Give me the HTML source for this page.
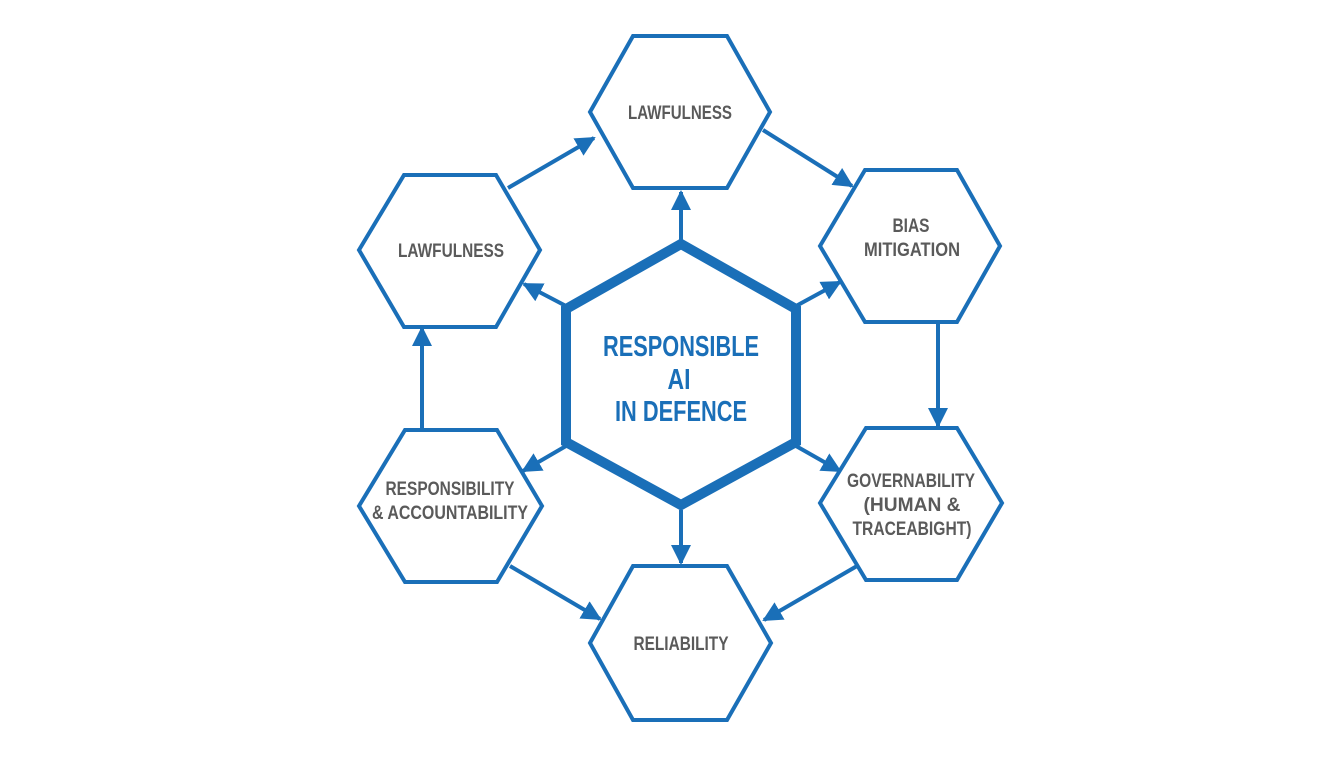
<!DOCTYPE html>
<html><head><meta charset="utf-8"><style>
html,body{margin:0;padding:0;background:#fff;}
svg{display:block}
text{font-family:"Liberation Sans",sans-serif;font-weight:bold;text-anchor:middle;}
.t{fill:#5a5a5a;font-size:19px}
.c{fill:#1a6fb8;font-size:29px}
.h{fill:#fff;stroke:#1a6fb8;stroke-width:4;stroke-linejoin:miter}
.l{stroke:#1a6fb8;stroke-width:4;fill:none}
</style></head><body>
<svg width="1344" height="768" viewBox="0 0 1344 768" xmlns="http://www.w3.org/2000/svg">
<defs><marker id="a" viewBox="0 0 10 10" refX="9" refY="5" markerWidth="5" markerHeight="5" orient="auto" markerUnits="strokeWidth"><path d="M0,0 L10,5 L0,10 z" fill="#1a6fb8"/></marker></defs>
<line class="l" x1="508" y1="188" x2="594" y2="138" marker-end="url(#a)"/>
<line class="l" x1="763" y1="130" x2="852" y2="186" marker-end="url(#a)"/>
<line class="l" x1="938" y1="322" x2="938" y2="426" marker-end="url(#a)"/>
<line class="l" x1="422" y1="430" x2="422" y2="328" marker-end="url(#a)"/>
<line class="l" x1="510" y1="566" x2="600" y2="619" marker-end="url(#a)"/>
<line class="l" x1="857" y1="566" x2="764" y2="620" marker-end="url(#a)"/>
<line class="l" x1="681" y1="240" x2="681" y2="192" marker-end="url(#a)"/>
<line class="l" x1="681" y1="510" x2="681" y2="563" marker-end="url(#a)"/>
<line class="l" x1="566" y1="306" x2="524" y2="284" marker-end="url(#a)"/>
<line class="l" x1="796" y1="306" x2="840" y2="282" marker-end="url(#a)"/>
<line class="l" x1="566" y1="446" x2="523" y2="471" marker-end="url(#a)"/>
<line class="l" x1="796" y1="446" x2="840" y2="471" marker-end="url(#a)"/>
<polygon class="h" points="590,112 633,36 727,36 770,112 727,188 633,188"/>
<polygon class="h" points="359,250 404,175 496,175 540,250 496,327 404,327"/>
<polygon class="h" points="820,246 865,170 957,170 1000,246 957,322 865,322"/>
<polygon class="h" points="359,506 405,430 497,430 542,506 497,582 405,582"/>
<polygon class="h" points="820,503 866,428 957,428 1002,503 957,580 866,580"/>
<polygon class="h" points="590,643 633,566 727,566 771,643 727,720 633,720"/>
<polygon points="681,244 796,309 796,442 681,505 566,442 566,309" fill="#fff" stroke="#1a6fb8" stroke-width="10" stroke-linejoin="miter"/>
<text class="t" x="680" y="119" textLength="104" lengthAdjust="spacingAndGlyphs">LAWFULNESS</text>
<text class="t" x="451" y="257" textLength="106" lengthAdjust="spacingAndGlyphs">LAWFULNESS</text>
<text class="t" x="911" y="232" textLength="37" lengthAdjust="spacingAndGlyphs">BIAS</text>
<text class="t" x="912" y="256" textLength="96" lengthAdjust="spacingAndGlyphs">MITIGATION</text>
<text class="t" x="450" y="495" textLength="129" lengthAdjust="spacingAndGlyphs">RESPONSIBILITY</text>
<text class="t" x="450" y="519" textLength="156" lengthAdjust="spacingAndGlyphs">&amp; ACCOUNTABILITY</text>
<text class="t" x="911" y="487" textLength="128" lengthAdjust="spacingAndGlyphs">GOVERNABILITY</text>
<text class="t" x="912" y="511" textLength="97" lengthAdjust="spacingAndGlyphs">(HUMAN &amp;</text>
<text class="t" x="912" y="535" textLength="119" lengthAdjust="spacingAndGlyphs">TRACEABIGHT)</text>
<text class="t" x="681" y="650" textLength="95" lengthAdjust="spacingAndGlyphs">RELIABILITY</text>
<text class="c" x="681" y="356" textLength="156" lengthAdjust="spacingAndGlyphs">RESPONSIBLE</text>
<text class="c" x="679" y="389" textLength="23" lengthAdjust="spacingAndGlyphs">AI</text>
<text class="c" x="681" y="421" textLength="132" lengthAdjust="spacingAndGlyphs">IN DEFENCE</text>
</svg>
</body></html>
